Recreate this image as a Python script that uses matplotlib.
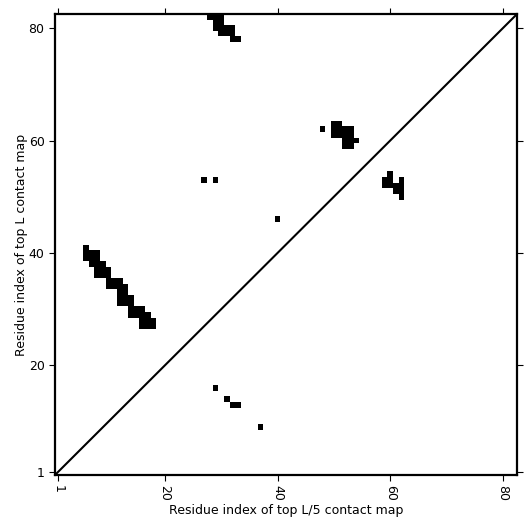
import matplotlib
matplotlib.use("Agg")
import matplotlib.pyplot as plt
import numpy as np

L = 82

# top L contacts (residue i, residue j) shown above the diagonal: (x, y)
top_L = [
    (28, 82), (29, 82), (30, 82),
    (29, 81), (30, 81),
    (29, 80), (30, 80), (31, 80), (32, 80),
    (30, 79), (31, 79), (32, 79),
    (32, 78), (33, 78),
    (6, 41),
    (6, 40), (7, 40), (8, 40),
    (6, 39), (7, 39), (8, 39),
    (7, 38), (8, 38), (9, 38),
    (8, 37), (9, 37), (10, 37),
    (8, 36), (9, 36), (10, 36),
    (10, 35), (11, 35), (12, 35),
    (10, 34), (11, 34), (12, 34), (13, 34),
    (12, 33), (13, 33),
    (12, 32), (13, 32), (14, 32),
    (12, 31), (13, 31), (14, 31),
    (14, 30), (15, 30), (16, 30),
    (14, 29), (15, 29), (16, 29), (17, 29),
    (16, 28), (17, 28), (18, 28),
    (16, 27), (17, 27), (18, 27),
    (48, 62),
    (50, 63), (51, 63),
    (50, 62), (51, 62), (52, 62), (53, 62),
    (50, 61), (51, 61), (52, 61), (53, 61),
    (52, 60), (53, 60), (54, 60),
    (52, 59), (53, 59),
    (27, 53), (29, 53),
    (40, 46),
]

# top L/5 contacts shown below the diagonal: (x, y)
top_L5 = [
    (60, 54),
    (59, 53), (60, 53), (62, 53),
    (59, 52), (60, 52), (61, 52), (62, 52),
    (61, 51), (62, 51),
    (62, 50),
    (29, 16),
    (31, 14),
    (32, 13), (33, 13),
    (37, 9),
]

ticks = [1, 20, 40, 60, 80]

cmap = np.zeros((L, L))
for x, y in top_L + top_L5:
    cmap[y - 1, x - 1] = 1

fig = plt.figure(figsize=(5.31, 5.31), dpi=100)
ax = fig.add_axes([0.1036, 0.1055, 0.870, 0.868])
ax.imshow(cmap, cmap='Greys', origin='lower', interpolation='nearest',
          extent=(0.5, L + 0.5, 0.5, L + 0.5), aspect='auto', vmin=0, vmax=1)
ax.plot([0.5, L + 0.5], [0.5, L + 0.5], color='black', lw=1.5)
ax.set_xlim(0.5, L + 0.5)
ax.set_ylim(0.5, L + 0.5)

ax.set_xticks(ticks)
ax.set_yticks(ticks)
ax.set_xticklabels([str(t) for t in ticks], rotation=270, fontsize=9)
ax.set_yticklabels([str(t) for t in ticks], fontsize=9)
ax.tick_params(direction='out', length=4, top=True, right=True)
for s in ax.spines.values():
    s.set_linewidth(1.6)

ax.set_xlabel('Residue index of top L/5 contact map', fontsize=9, labelpad=2)
ax.set_ylabel('Residue index of top L contact map', fontsize=9, labelpad=0.5)

fig.savefig('out.png', dpi=100)
